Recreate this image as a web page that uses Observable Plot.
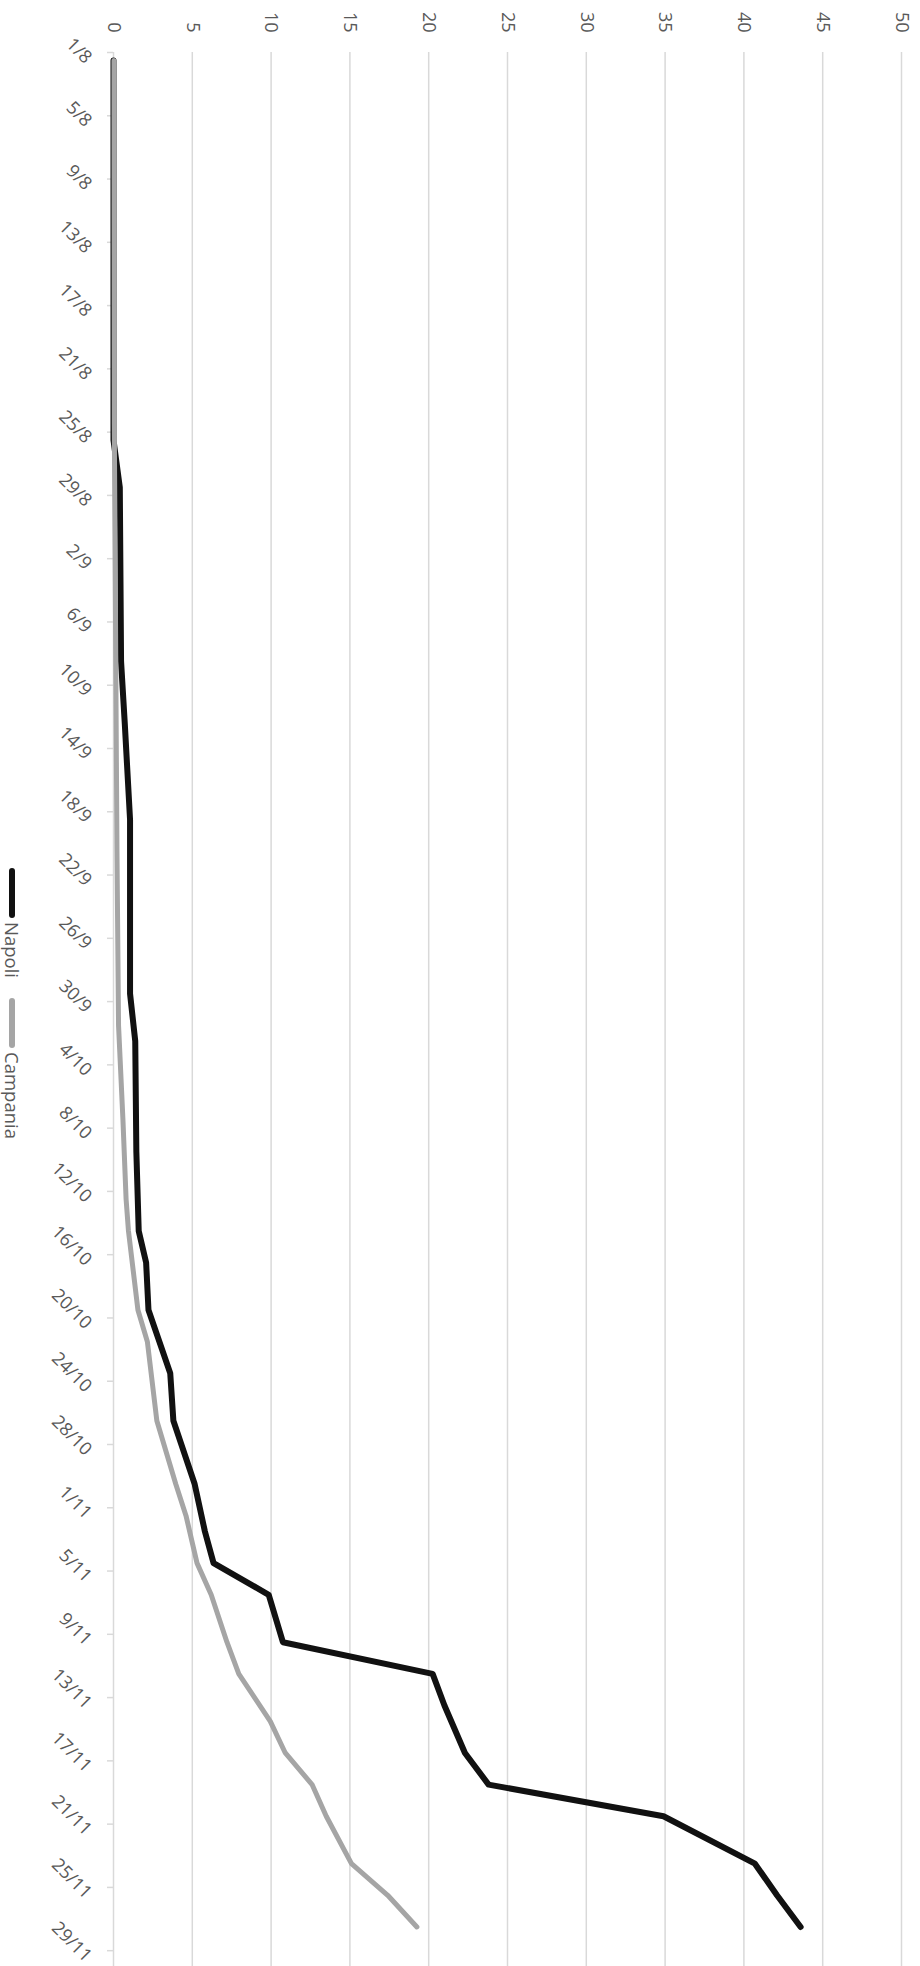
<!DOCTYPE html>
<html>
<head>
<meta charset="utf-8">
<script src="https://cdn.jsdelivr.net/npm/d3@7"></script>
<script src="https://cdn.jsdelivr.net/npm/@observablehq/plot@0.6"></script>
<style>
  html, body { margin: 0; padding: 0; background: #fff; }
  #wrap { position: relative; width: 920px; height: 1966px; font-family: "Open Sans", sans-serif; }
  #legend { position: absolute; left: 19px; top: 868px; transform: rotate(90deg); transform-origin: 0 0;
            display: flex; align-items: center; white-space: nowrap; color: #595959; font-size: 18.5px; line-height: 14px; }
  .sw { display: inline-block; width: 50px; height: 6px; border-radius: 3px; margin-right: 4px; }
  .item { display: flex; align-items: center; margin-right: 20px; }
</style>
</head>
<body>
<div id="wrap">
  <div id="chart"></div>
  <div id="legend"></div>
</div>
<script>
// Series names and colours
const seriesNames = ["Napoli", "Campania"];
const seriesColors = ["#111111", "#a5a5a5"];

// Napoli: dates (day/month, 2020) and values
const napoliDates = ["2020-08-01","2020-08-25","2020-08-28","2020-09-08","2020-09-12","2020-09-18","2020-09-29","2020-10-02","2020-10-09","2020-10-14","2020-10-16","2020-10-19","2020-10-23","2020-10-26","2020-10-30","2020-11-02","2020-11-04","2020-11-06","2020-11-09","2020-11-11","2020-11-13","2020-11-16","2020-11-18","2020-11-20","2020-11-23","2020-11-25","2020-11-27"];
const napoliValues = [0, 0, 0.4, 0.48, 0.72, 1.05, 1.05, 1.38, 1.45, 1.6, 2.07, 2.22, 3.6, 3.8, 5.15, 5.8, 6.35, 9.85, 10.75, 20.25, 21.0, 22.3, 23.8, 34.9, 40.7, 42.1, 43.6];

// Campania: dates and values
const campaniaDates = ["2020-08-01","2020-08-24","2020-09-01","2020-09-20","2020-10-01","2020-10-07","2020-10-12","2020-10-14","2020-10-19","2020-10-21","2020-10-26","2020-10-30","2020-11-01","2020-11-04","2020-11-06","2020-11-09","2020-11-11","2020-11-14","2020-11-16","2020-11-18","2020-11-20","2020-11-23","2020-11-25","2020-11-27"];
const campaniaValues = [0.03, 0.05, 0.1, 0.22, 0.32, 0.6, 0.8, 0.95, 1.55, 2.15, 2.75, 3.95, 4.6, 5.3, 6.2, 7.2, 7.95, 9.95, 10.9, 12.6, 13.5, 15.1, 17.4, 19.25];

// Axes
const valueTicks = [0, 5, 10, 15, 20, 25, 30, 35, 40, 45, 50];
const dateTickLabels = ["1/8","5/8","9/8","13/8","17/8","21/8","25/8","29/8","2/9","6/9","10/9","14/9","18/9","22/9","26/9","30/9","4/10","8/10","12/10","16/10","20/10","24/10","28/10","1/11","5/11","9/11","13/11","17/11","21/11","25/11","29/11"];
const dateStart = "2020-08-01";
const dateEnd = "2020-11-30";

const parse = s => new Date(s + "T00:00:00Z");
const label = s => { const [d, m] = s.split("/").map(Number); return new Date(Date.UTC(2020, m - 1, d)); };
const dayCenter = s => new Date(parse(s).getTime() + 12 * 3600 * 1000);

const rows = [];
napoliDates.forEach((d, i) => rows.push({series: "Napoli", date: dayCenter(d), value: napoliValues[i]}));
campaniaDates.forEach((d, i) => rows.push({series: "Campania", date: dayCenter(d), value: campaniaValues[i]}));

const tickDates = dateTickLabels.map(label);
const fmt = d => `${d.getUTCDate()}/${d.getUTCMonth() + 1}`;

const chart = Plot.plot({
  width: 920,
  height: 1966,
  marginTop: 52,
  marginBottom: 0,
  marginLeft: 113,
  marginRight: 19,
  style: {fontFamily: "'Open Sans', sans-serif", background: "#fff", color: "#595959"},
  x: {domain: [0, 50]},
  y: {type: "utc", domain: [parse(dateStart), parse(dateEnd)], reverse: true},
  color: {domain: seriesNames, range: seriesColors},
  marks: [
    Plot.gridX(valueTicks, {stroke: "#d9d9d9", strokeOpacity: 1, strokeWidth: 1.5}),
    Plot.axisX(valueTicks, {anchor: "top", tickSize: 0, tickPadding: 20, tickRotate: 90, textAnchor: "end",
      fontSize: 18, fill: "#595959", label: null, tickFormat: d => String(d)}),
    Plot.axisY(tickDates, {anchor: "left", tickSize: 6, stroke: "#d9d9d9", strokeWidth: 1.5, tickFormat: () => "", label: null}),
    Plot.axisY(tickDates, {anchor: "left", tickSize: 0, tickPadding: 25, tickRotate: 45, textAnchor: "end",
      dy: 8, fontSize: 18, fill: "#595959", label: null, tickFormat: fmt}),
    Plot.lineX(rows.filter(r => r.series === "Napoli"), {x: "value", y: "date", stroke: "series", strokeWidth: 6, strokeLinecap: "round", strokeLinejoin: "round"}),
    Plot.lineX(rows.filter(r => r.series === "Campania"), {x: "value", y: "date", stroke: "series", strokeWidth: 5, strokeLinecap: "round", strokeLinejoin: "round"})
  ]
});
document.getElementById("chart").appendChild(chart);

const legend = document.getElementById("legend");
seriesNames.forEach((name, i) => {
  const item = document.createElement("div");
  item.className = "item";
  const sw = document.createElement("span");
  sw.className = "sw";
  sw.style.background = seriesColors[i];
  const t = document.createElement("span");
  t.textContent = name;
  item.appendChild(sw);
  item.appendChild(t);
  legend.appendChild(item);
});
</script>
</body>
</html>
